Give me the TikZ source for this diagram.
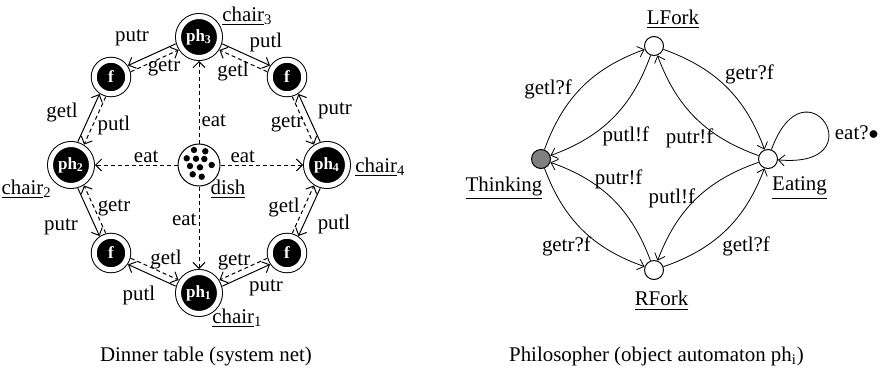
\documentclass[tikz,border=0pt]{standalone}
\usepackage{fontspec}
\setmainfont{Liberation Serif}
\usetikzlibrary{arrows.meta,positioning,calc}

\begin{document}
\begin{tikzpicture}[
  x=0.5pt, y=0.5pt,
  every node/.style={font=\fontsize{10.45}{12.5}\selectfont},
  ph/.style={circle, draw, fill=black, line width=0.5pt, double,
             double distance=2.5pt, minimum size=20.5pt, inner sep=0pt,
             outer sep=1.75pt, text=white,
             font=\fontsize{8.5}{9}\selectfont\bfseries},
  fork/.style={ph, minimum size=16.75pt},
  bowl/.style={circle, draw, line width=0.5pt, minimum size=21pt, inner sep=0pt},
  loc/.style={circle, draw, line width=0.5pt, minimum size=9.5pt, inner sep=0pt},
  lbl/.style={inner sep=1pt},
  put/.style={-{Straight Barb[length=3pt,width=6pt]}, line width=0.5pt},
  get/.style={put, dash pattern=on 2pt off 1.5pt},
  move/.style={-{Straight Barb[length=3pt,width=5.5pt]}, line width=0.4pt}
]
\useasboundingbox (0,0) rectangle (881,371);

% dinner table
\node[bowl] (dish) at (199,206) {};
\foreach \dx/\dy in {-5/15, 6.3/13.7, -12.3/6.7, -3/6.3, 5.3/6, 12.7/0,
                     -9/-1, 1/-2.3, -6.3/-9.3, 2.7/-11.7}
  \fill ([shift={(\dx,\dy)}]dish.center) circle[radius=1.6pt];

\node[ph] (ph3) at (199,334) {ph\textsubscript{3}};
\node[ph] (ph2) at (71,206)  {ph\textsubscript{2}};
\node[ph] (ph4) at (327,206) {ph\textsubscript{4}};
\node[ph] (ph1) at (199,78)  {ph\textsubscript{1}};
\node[fork] (fTL) at (111,294) {f};
\node[fork] (fTR) at (287,294) {f};
\node[fork] (fBL) at (111,118) {f};
\node[fork] (fBR) at (287,118) {f};

\node[lbl, right=2pt of ph3.north east, yshift=2pt] (chair3) {\underline{chair}\textsubscript{3}};
\node[lbl, right=1pt of ph4, yshift=-1pt] (chair4) {\underline{chair}\textsubscript{4}};
\node[lbl, left=0pt of ph2.south west, yshift=-3.5pt] (chair2) {\underline{chair}\textsubscript{2}};
\node[lbl, right=-3pt of ph1.south east, yshift=-4pt] (chair1) {\underline{chair}\textsubscript{1}};
\node[lbl, right=-3pt of dish.south east, yshift=-4.5pt] (dishlbl) {\underline{dish}};

% solid: philosopher -> fork (outer side), dashed: fork -> philosopher
\foreach \p/\f/\s/\t/\a/\ax/\ay/\b/\bx/\by in {
    ph3/fTL/-90/90/putr/132/333/getr/164/303,
    ph2/fTL/90/-90/getl/62/259/putl/114/246,
    ph3/fTR/90/-90/putl/266/329/getl/233/299,
    ph4/fTR/-90/90/putr/335/260/getr/287/247,
    ph2/fBL/-90/90/putr/61/144/getr/114/163,
    ph1/fBL/90/-90/putl/139/76/getl/166/112,
    ph1/fBR/-90/90/putr/266/83/getr/234/109,
    ph4/fBR/90/-90/putl/334/147/getl/284/164}{
  \draw[put, shorten <=12pt, shorten >=10.1pt]
    ($(\p)!1.7pt!\s:(\f)$) -- ($(\f)!1.7pt!\t:(\p)$);
  \draw[get, shorten <=10.1pt, shorten >=12pt]
    ($(\f)!1.7pt!\s:(\p)$) -- ($(\p)!1.7pt!\t:(\f)$);
  \node[lbl] (\p-\f-a) at (\ax,\ay) {\a};
  \node[lbl] (\p-\f-b) at (\bx,\by) {\b};
}

\draw[get] (dish) -- node[lbl, pos=.28, right] (eat3) {eat} (ph3);
\draw[get] (dish) -- node[lbl, pos=.38, above] (eat2) {eat} (ph2);
\draw[get] (dish) -- node[lbl, pos=.27, above] (eat4) {eat} (ph4);
\draw[get] (dish) -- node[lbl, pos=.40, left]  (eat1) {eat} (ph1);

\node (captl) at (206,15) {Dinner table (system net)};

% philosopher
\node[loc, fill=black!50] (thinking) at (541,212) {};
\node[loc] (eating) at (768,212) {};
\node[loc] (lfork)  at (654,325) {};
\node[loc] (rfork)  at (654,101) {};

\node[lbl, below=2.75pt of thinking, xshift=-18.5pt] (thinklbl) {\underline{Thinking}};
\node[lbl, below=2.75pt of eating, xshift=15.75pt] (eatlbl) {\underline{Eating}};
\node[lbl, above=2.5pt of lfork, xshift=9.5pt] (lforklbl) {\underline{LFork}};
\node[lbl, below=4.5pt of rfork, xshift=3.75pt] (rforklbl) {\underline{RFork}};

\draw[move] (thinking) to[bend left=25]  node[lbl, shift={(-34,-2)}] (m1) {getl?f} (lfork);
\draw[move] (lfork)    to[bend left=25]  node[lbl, shift={(13,-18)}] (m2) {putl!f} (thinking);
\draw[move] (lfork)    to[bend left=25]  node[lbl, shift={(23,13)}]  (m3) {getr?f} (eating);
\draw[move] (eating)   to[bend left=25]  node[lbl, shift={(-6,-20)}] (m4) {putr!f} (lfork);
\draw[move] (eating)   to[bend right=25] node[lbl, shift={(-24,1)}]  (m5) {putl!f} (rfork);
\draw[move] (rfork)    to[bend right=25] node[lbl, shift={(20,-16)}] (m6) {getl?f} (eating);
\draw[move] (rfork)    to[bend right=25] node[lbl, shift={(6,20)}]   (m7) {putr!f} (thinking);
\draw[move] (thinking) to[bend right=25] node[lbl, shift={(-16,-16)}] (m8) {getr?f} (rfork);
\draw[move] (eating) to[out=70, in=-5, out distance=50pt, in distance=50pt]
  node[lbl, pos=.6, right=2pt] (m9) {eat?$\bullet$} (eating);

\node (captr) at (656.5,15) {Philosopher (object automaton ph\textsubscript{i})};
\end{tikzpicture}
\end{document}
